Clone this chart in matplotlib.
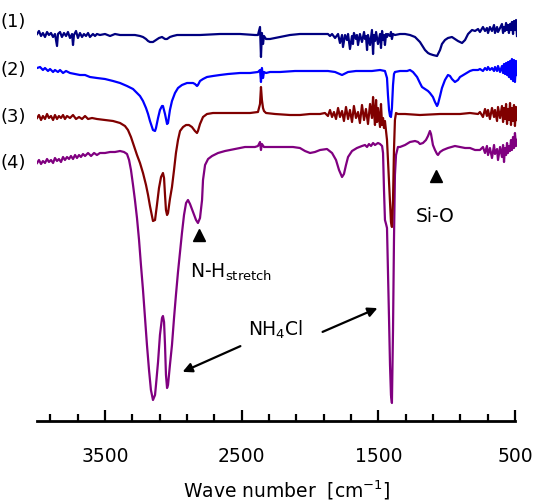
import matplotlib
matplotlib.use("Agg")
import matplotlib.pyplot as plt
from matplotlib.ticker import FixedLocator

# spectra (wavenumber cm-1, offset intensity a.u.)
wn1 = [3997, 3983, 3968, 3954, 3939, 3924, 3910, 3895, 3880, 3866, 3851, 3844, 3829, 3815, 3800, 3785,
       3771, 3756, 3741, 3734, 3727, 3712, 3698, 3683, 3668, 3654, 3639, 3624, 3610, 3588, 3573, 3559,
       3537, 3500, 3463, 3427, 3390, 3354, 3317, 3281, 3244, 3222, 3200, 3185, 3171, 3149, 3127, 3105,
       3083, 3061, 3046, 3025, 3003, 2973, 2915, 2805, 2659, 2512, 2403, 2381, 2366, 2359, 2352, 2344,
       2337, 2322, 2293, 2256, 2220, 2183, 2147, 2074, 2000, 1927, 1869, 1854, 1839, 1817, 1795, 1781,
       1766, 1759, 1744, 1730, 1722, 1708, 1693, 1686, 1679, 1664, 1657, 1649, 1635, 1620, 1605, 1598,
       1591, 1583, 1576, 1561, 1547, 1539, 1532, 1525, 1517, 1503, 1488, 1481, 1473, 1466, 1459, 1452,
       1444, 1437, 1430, 1415, 1408, 1401, 1393, 1379, 1342, 1305, 1269, 1232, 1196, 1159, 1137, 1123,
       1101, 1071, 1049, 1035, 1013, 991, 962, 940, 918, 888, 866, 844, 815, 793, 771, 757,
       735, 720, 706, 698, 684, 669, 654, 647, 632, 625, 610, 596, 588, 581, 574, 566,
       559, 552, 545, 537, 530, 523, 515, 508, 501, 493, 486]
sig1 = [387, 390, 385, 388, 384, 389, 386, 388, 384, 387, 375, 387, 389, 384, 388, 385,
        389, 383, 387, 376, 386, 390, 383, 388, 384, 387, 385, 388, 384, 387, 385, 387,
        386, 387, 385, 387, 386, 386, 386, 386, 385, 384, 382, 380, 379, 379, 381, 383,
        384, 382, 382, 384, 385, 386, 386, 386, 387, 387, 386, 386, 394, 364, 388, 377,
        385, 382, 382, 383, 384, 385, 386, 387, 387, 387, 387, 385, 387, 383, 387, 378,
        386, 374, 386, 381, 387, 372, 385, 377, 388, 382, 386, 376, 387, 379, 389, 382,
        385, 371, 386, 376, 391, 367, 386, 380, 389, 377, 387, 373, 390, 381, 386, 376,
        387, 384, 387, 385, 389, 382, 387, 386, 387, 387, 386, 384, 379, 371, 368, 367,
        366, 365, 371, 377, 381, 383, 384, 382, 380, 378, 381, 387, 391, 390, 392, 389,
        394, 390, 393, 388, 394, 390, 396, 388, 394, 389, 393, 397, 388, 394, 390, 398,
        391, 396, 388, 397, 391, 399, 387, 400, 391, 401, 385]

wn2 = [3997, 3975, 3954, 3939, 3917, 3902, 3880, 3866, 3844, 3829, 3807, 3785, 3756, 3719, 3683, 3646,
       3610, 3559, 3500, 3441, 3390, 3339, 3295, 3266, 3244, 3222, 3200, 3185, 3171, 3156, 3149, 3134,
       3127, 3112, 3098, 3083, 3076, 3061, 3046, 3039, 3025, 3010, 2988, 2966, 2937, 2900, 2856, 2842,
       2827, 2820, 2805, 2783, 2754, 2710, 2659, 2600, 2512, 2439, 2381, 2366, 2359, 2352, 2344, 2337,
       2322, 2293, 2220, 2110, 2000, 1869, 1817, 1766, 1722, 1664, 1598, 1547, 1488, 1452, 1437, 1430,
       1422, 1415, 1408, 1401, 1393, 1386, 1379, 1342, 1290, 1269, 1247, 1217, 1196, 1181, 1159, 1137,
       1123, 1101, 1086, 1071, 1064, 1049, 1035, 1013, 991, 976, 962, 940, 918, 903, 866, 830,
       808, 771, 757, 735, 720, 706, 698, 684, 669, 654, 647, 632, 625, 610, 596, 588,
       581, 574, 566, 559, 552, 545, 537, 530, 523, 515, 508, 501, 493, 486]
sig2 = [353, 354, 351, 353, 350, 352, 349, 351, 349, 351, 348, 350, 348, 347, 346, 346,
        344, 343, 342, 340, 338, 335, 332, 328, 325, 320, 313, 307, 300, 294, 291, 290,
        293, 303, 311, 315, 315, 307, 297, 298, 311, 320, 328, 333, 336, 338, 338, 337,
        335, 336, 340, 342, 344, 345, 346, 347, 348, 348, 349, 351, 339, 353, 343, 349,
        348, 349, 349, 350, 350, 350, 349, 346, 349, 350, 350, 350, 351, 350, 343, 326,
        311, 305, 304, 313, 336, 347, 349, 350, 350, 351, 349, 344, 338, 334, 332, 330,
        328, 324, 319, 315, 317, 325, 333, 341, 346, 345, 342, 339, 341, 344, 347, 350,
        351, 351, 352, 350, 353, 351, 354, 351, 353, 350, 354, 350, 355, 349, 355, 348,
        357, 347, 358, 346, 359, 344, 360, 342, 362, 340, 361, 339, 360, 346]

wn3 = [3997, 3983, 3968, 3954, 3939, 3924, 3910, 3895, 3880, 3866, 3851, 3837, 3822, 3807, 3793, 3778,
       3756, 3734, 3712, 3690, 3668, 3646, 3624, 3595, 3559, 3500, 3441, 3390, 3354, 3332, 3310, 3288,
       3266, 3244, 3222, 3200, 3185, 3171, 3156, 3149, 3134, 3120, 3105, 3090, 3076, 3068, 3061, 3054,
       3046, 3039, 3025, 3010, 2995, 2981, 2966, 2951, 2929, 2907, 2886, 2864, 2842, 2827, 2820, 2805,
       2783, 2754, 2710, 2586, 2439, 2381, 2366, 2359, 2352, 2344, 2337, 2322, 2256, 2147, 2074, 2000,
       1927, 1891, 1869, 1854, 1839, 1825, 1810, 1795, 1781, 1766, 1752, 1737, 1722, 1708, 1693, 1679,
       1664, 1649, 1635, 1620, 1605, 1591, 1576, 1561, 1547, 1539, 1532, 1525, 1517, 1510, 1503, 1488,
       1481, 1473, 1466, 1459, 1452, 1444, 1437, 1430, 1422, 1415, 1408, 1401, 1393, 1386, 1379, 1371,
       1357, 1305, 1196, 1049, 903, 830, 771, 757, 735, 720, 706, 698, 684, 669, 654, 647,
       632, 625, 610, 596, 588, 581, 574, 566, 559, 552, 545, 537, 530, 523, 515, 508,
       501, 493, 486]
sig3 = [303, 306, 301, 305, 302, 307, 303, 305, 301, 306, 302, 305, 303, 306, 302, 305,
        303, 306, 302, 304, 302, 305, 302, 303, 302, 301, 300, 298, 295, 291, 284, 275,
        266, 258, 248, 236, 226, 215, 205, 200, 201, 216, 233, 244, 248, 243, 226, 211,
        206, 208, 222, 234, 251, 268, 281, 290, 294, 296, 296, 294, 290, 288, 290, 297,
        304, 307, 308, 308, 308, 309, 317, 334, 321, 313, 310, 308, 307, 306, 306, 307,
        307, 308, 305, 311, 304, 309, 302, 313, 304, 310, 300, 314, 302, 311, 299, 315,
        303, 309, 298, 316, 301, 312, 297, 317, 303, 324, 309, 296, 321, 299, 313, 294,
        317, 296, 303, 293, 300, 290, 281, 261, 236, 216, 199, 194, 221, 271, 301, 308,
        307, 307, 306, 307, 307, 308, 307, 309, 304, 312, 305, 311, 302, 313, 304, 311,
        300, 314, 303, 315, 299, 313, 302, 317, 297, 312, 301, 318, 296, 313, 300, 316,
        295, 314, 301]

wn4 = [3997, 3983, 3968, 3954, 3939, 3924, 3910, 3895, 3880, 3866, 3851, 3837, 3822, 3807, 3793, 3778,
       3763, 3749, 3734, 3719, 3705, 3690, 3676, 3661, 3646, 3624, 3602, 3580, 3559, 3537, 3500, 3463,
       3427, 3390, 3361, 3339, 3324, 3310, 3295, 3281, 3266, 3251, 3237, 3222, 3207, 3193, 3178, 3164,
       3149, 3134, 3127, 3112, 3098, 3083, 3076, 3068, 3061, 3054, 3046, 3039, 3025, 3010, 2995, 2981,
       2966, 2951, 2937, 2922, 2907, 2893, 2878, 2856, 2834, 2820, 2805, 2790, 2783, 2768, 2746, 2717,
       2673, 2622, 2549, 2476, 2403, 2381, 2366, 2359, 2352, 2337, 2293, 2220, 2125, 2074, 2037, 2000,
       1964, 1927, 1876, 1839, 1810, 1788, 1766, 1752, 1737, 1722, 1693, 1657, 1620, 1598, 1583, 1569,
       1554, 1539, 1525, 1503, 1488, 1473, 1466, 1459, 1452, 1444, 1437, 1430, 1422, 1415, 1408, 1401,
       1393, 1386, 1379, 1371, 1357, 1342, 1305, 1269, 1232, 1210, 1196, 1174, 1152, 1137, 1123, 1115,
       1101, 1086, 1071, 1064, 1049, 1027, 991, 940, 903, 866, 830, 793, 757, 735, 720, 706,
       698, 684, 669, 654, 647, 632, 625, 610, 596, 588, 581, 574, 566, 559, 552, 545,
       537, 530, 523, 515, 508, 501, 493, 486]
sig4 = [258, 261, 257, 260, 258, 262, 259, 261, 258, 263, 260, 262, 259, 264, 261, 264,
        262, 265, 262, 266, 263, 266, 264, 267, 265, 268, 265, 268, 266, 268, 268, 269,
        269, 270, 269, 267, 261, 251, 236, 221, 203, 181, 156, 131, 103, 76, 51, 31,
        21, 26, 36, 59, 86, 103, 105, 99, 76, 46, 33, 36, 56, 76, 103, 126,
        149, 169, 188, 206, 218, 221, 217, 209, 201, 198, 203, 221, 241, 256, 262, 265,
        268, 270, 272, 274, 274, 275, 279, 271, 277, 274, 274, 274, 274, 273, 270, 268,
        269, 271, 272, 268, 261, 251, 244, 247, 256, 264, 270, 273, 275, 276, 274, 277,
        275, 278, 276, 278, 277, 275, 268, 231, 201, 197, 193, 151, 101, 56, 26, 18,
        91, 181, 246, 266, 274, 274, 276, 279, 280, 279, 277, 278, 281, 285, 290, 287,
        276, 271, 267, 266, 269, 271, 273, 275, 274, 273, 273, 271, 271, 274, 268, 275,
        266, 273, 263, 276, 267, 272, 261, 274, 264, 276, 259, 273, 266, 278, 268, 275,
        270, 281, 271, 284, 273, 288, 275, 281]

colors = ["#000080", "#0000ff", "#800000", "#800080"]
labels = ["(1)", "(2)", "(3)", "(4)"]
label_rows = [22, 70, 117, 163]

W, H = 542, 504
fig = plt.figure(figsize=(W / 100, H / 100), dpi=100)
ax = fig.add_axes([36.65 / W, 83 / H, 480.35 / W, 416 / H])

spectra = [(wn1, sig1), (wn2, sig2), (wn3, sig3), (wn4, sig4)]
for i, (x, y) in enumerate(spectra):
    ax.plot(x, y, color=colors[i], lw=1.6, zorder=10 - i)

ax.set_xlim(4000, 486)
ax.set_ylim(0, 416)
for s in ["left", "top", "right"]:
    ax.spines[s].set_visible(False)
ax.spines["bottom"].set_linewidth(2)
ax.spines["bottom"].set_bounds(4000, 500)
ax.set_yticks([])
ax.xaxis.set_major_locator(FixedLocator([3500, 2500, 1500, 500]))
ax.xaxis.set_minor_locator(FixedLocator(list(range(700, 4000, 200))))
ax.tick_params(axis="x", which="major", direction="in", length=8, width=1.6,
               labelsize=13.5, pad=19)
ax.tick_params(axis="x", which="minor", direction="in", length=5, width=1.6)

fig.text(287 / W, 1 - 490 / H, "Wave number  [cm$^{-1}$]", ha="center", va="center", fontsize=13.5)

for lab, r in zip(labels, label_rows):
    fig.text(0 / W, 1 - r / H, lab, ha="left", va="center", fontsize=13)

# peak markers
ax.plot([2812, 1079], [186, 245], ls="none", marker="^", ms=9, color="black")
ax.text(2878, 143, "N-H$_{\\mathregular{stretch}}$", ha="left", va="baseline", fontsize=13.5)
ax.text(1230, 199, "Si-O", ha="left", va="baseline", fontsize=13.5)

ax.text(2454, 91, "NH$_4$Cl", ha="left", va="center", fontsize=13.5)
ax.annotate("", xy=(2951, 48), xytext=(2491, 76),
            arrowprops=dict(arrowstyle="-|>", color="black", lw=1.6, mutation_scale=14))
ax.annotate("", xy=(1488, 114), xytext=(1927, 88),
            arrowprops=dict(arrowstyle="-|>", color="black", lw=1.6, mutation_scale=14))

fig.savefig("out.png", dpi=100, facecolor="white")
